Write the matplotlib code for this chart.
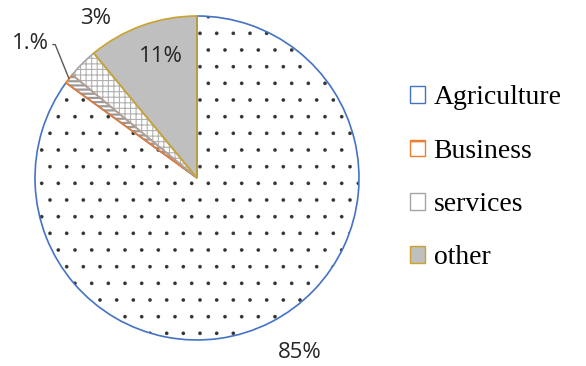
import numpy as np
import matplotlib.pyplot as plt
from matplotlib.patches import Patch

# sector shares (%) and the text shown on each slice
sectors = ['Agriculture', 'Business', 'services', 'other']
shares = [85, 1, 3, 11]
share_labels = ['85%', '1.%', '3%', '11%']

edge_colors = ['#4472C4', '#ED7D31', '#A5A5A5', '#C9A32E']
face_colors = ['white', 'white', 'white', '#BFBFBF']
hatches = ['.', '----', '+++', '']
hatch_colors = ['#333333', '#9A9A9A', '#B0B0B0', '#BFBFBF']
hatch_widths = [0.2, 1.6, 0.8, 1.0]

fig = plt.figure(figsize=(5.86, 3.66), dpi=100)
ax = fig.add_axes([35 / 586, 26 / 366, 324 / 586, 324 / 366])

# first pass: fills and hatching (hatch takes the edge colour)
wedges, _ = ax.pie(shares, startangle=90, counterclock=False,
                   colors=face_colors, radius=1,
                   wedgeprops=dict(linewidth=0))
for w, h, hc, hw in zip(wedges, hatches, hatch_colors, hatch_widths):
    w.set_hatch(h)
    w.set_edgecolor(hc)
    if hasattr(w, 'set_hatch_linewidth'):
        w.set_hatch_linewidth(hw)

# second pass: coloured outlines only
outlines, _ = ax.pie(shares, startangle=90, counterclock=False,
                     colors=['none'] * 4, radius=1,
                     wedgeprops=dict(linewidth=1.2))
for w, ec in zip(outlines, edge_colors):
    w.set_edgecolor(ec)
    w.set_facecolor('none')

ax.set_xlim(-1, 1)
ax.set_ylim(-1, 1)
ax.axis('off')

label_font = dict(family=['Open Sans', 'DejaVu Sans'], fontsize=16, color='#262626')

def mid_angle(w):
    return np.deg2rad((w.theta1 + w.theta2) / 2)

# 85% outside, bottom right
a = mid_angle(wedges[0])
ax.text(1.2 * np.cos(a) + 0.09, 1.2 * np.sin(a) - 0.005, share_labels[0],
        ha='center', va='center', **label_font)

# 11% inside the grey slice
a = mid_angle(wedges[3])
ax.text(0.78 * np.cos(a) + 0.04, 0.78 * np.sin(a) + 0.014, share_labels[3],
        ha='center', va='center', **label_font)

# 3% just outside, above the slice
a = mid_angle(wedges[2])
ax.text(1.17 * np.cos(a) + 0.2, 1.17 * np.sin(a) + 0.16, share_labels[2],
        ha='center', va='center', **label_font)

# 1.% with an elbow leader line
a = mid_angle(wedges[1])
rim = (np.cos(a), np.sin(a))
ax.annotate(share_labels[1], xy=rim, xytext=(-1.03, 0.83),
            ha='center', va='center', **label_font,
            arrowprops=dict(arrowstyle='-', color='#595959', lw=1.0,
                            shrinkA=1, shrinkB=0,
                            connectionstyle='angle,angleA=0,angleB=112,rad=0',
                            relpos=(1.0, 0.45)))

handles = []
for fc, ec, h, s in zip(face_colors, edge_colors, ['', '-', '', ''], sectors):
    handles.append(Patch(facecolor=fc, edgecolor=ec, linewidth=1.0, hatch=h, label=s))
fig.legend(handles=handles, loc='center left', bbox_to_anchor=(410 / 586, 1 - 178 / 366),
           frameon=False, prop=dict(family='Liberation Serif', size=20),
           handlelength=0.55, handleheight=0.55, handletextpad=0.3,
           labelspacing=1.02, borderaxespad=0, borderpad=0)

fig.savefig('out.png', dpi=100)
